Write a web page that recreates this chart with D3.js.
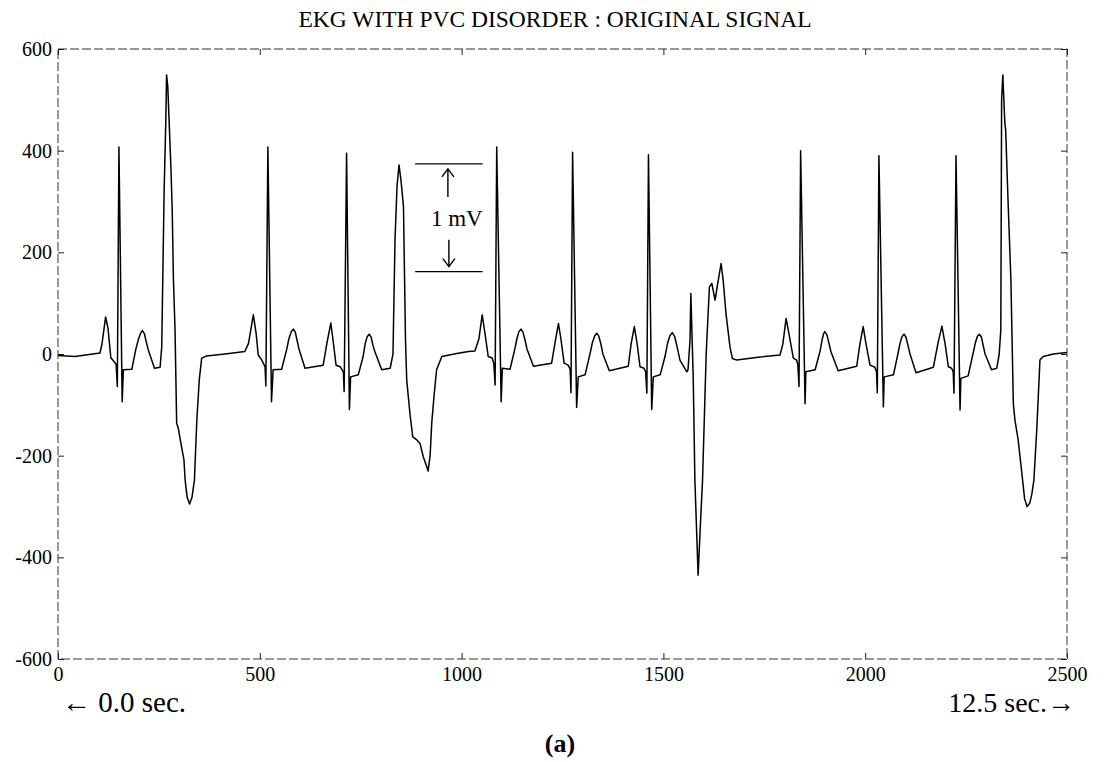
<!DOCTYPE html>
<html>
<head>
<meta charset="utf-8">
<script src="https://cdn.jsdelivr.net/npm/d3@7"></script>
<style>
  body { margin: 0; background: #fff; }
  text { font-family: "Liberation Serif", "Times New Roman", serif; fill: #000; }
</style>
</head>
<body>
<script>
// EKG trace: [sample number, amplitude]
const ekgTrace = [
  [0,-3],[42,-5],[104,2],[109,20],[118,73],[124,50],[131,-8],[136,-12],[144,-20],[147,-64],[151,407],[159,-94],[162,-31],
  [183,-30],[193,10],[199,28],[204,40],[209,46],[214,40],[218,26],[223,10],[239,-28],[253,-26],[257,14],[263,322],
  [267,454],[269,549],[272,526],[280,362],
  [283,283],[286,146],[290,47],[294,-136],[298,-146],[306,-182],[312,-208],[315,-248],[320,-282],[326,-295],[332,-282],
  [338,-248],[344,-130],[350,-51],[356,-8],[368,-4],[414,0],[463,5],[472,21],[484,77],[491,40],[496,-2],[505,-12],
  [513,-25],[515,-63],[520,407],[529,-94],[533,-31],[554,-30],[567,10],[572,30],[578,44],[583,49],[588,43],[592,28],
  [597,10],[612,-28],[657,-22],[666,20],
  [676,61],[681,30],[689,-22],[699,-25],[707,-35],[709,-74],[715,395],[722,-109],[725,-45],[744,-41],[756,-5],[761,20],
  [766,34],[771,39],[776,33],[780,18],
  [785,5],[802,-31],[823,-28],[830,0],[835,224],[840,330],[845,372],[850,340],[856,290],[859,132],[861,28],[864,-51],
  [872,-117],[879,-163],[889,-169],[897,-176],[905,-202],[912,-218],[917,-230],[922,-200],[926,-136],[932,-80],[938,-31],
  [951,-5],[988,1],[1017,5],[1033,6],[1043,30],[1051,77],[1058,40],[1066,-5],[1076,-8],[1080,-20],[1083,-61],[1087,407],
  [1098,-94],[1101,-28],[1120,-30],[1132,10],[1137,30],[1142,44],[1147,49],[1152,43],[1157,28],[1162,10],[1178,-24],
  [1223,-18],[1231,20],[1240,60],[1246,30],
  [1254,-18],[1264,-22],[1269,-30],[1271,-76],[1275,397],[1285,-105],[1289,-45],[1306,-41],[1318,0],[1324,22],[1330,36],
  [1335,41],[1340,35],[1345,20],[1350,0],
  [1366,-33],[1413,-24],[1420,20],[1428,54],[1435,20],[1442,-25],[1452,-28],[1456,-35],[1459,-77],[1463,392],[1471,-109],
  [1475,-45],[1492,-41],[1504,-5],[1510,20],[1516,36],[1522,42],[1528,34],[1534,14],[1541,-12],[1558,-35],[1561,-31],
  [1566,28],[1568,119],[1574,-51],[1578,-248],
  [1586,-435],[1592,-330],[1597,-248],[1606,0],[1614,132],[1620,139],[1628,106],[1634,136],[1643,178],[1648,146],
  [1655,80],[1665,14],[1671,-9],[1682,-12],[1739,-6],[1789,-2],[1796,20],[1804,70],[1811,40],[1822,-8],[1830,-12],
  [1833,-20],[1836,-64],[1840,400],[1851,-98],[1853,-35],[1876,-31],[1888,5],[1893,27],[1897,40],[1900,44],[1905,38],
  [1910,22],[1915,5],[1933,-33],[1979,-24],
  [1987,20],[1995,54],[2002,20],[2012,-22],[2024,-26],[2028,-35],[2030,-76],[2034,390],[2045,-104],[2047,-45],[2070,-41],
  [2081,0],[2086,20],[2091,34],[2096,39],[2101,33],[2106,17],[2111,0],[2126,-37],[2169,-26],[2180,20],[2190,55],
  [2198,20],[2206,-25],[2214,-28],[2218,-35],
  [2220,-77],[2225,390],[2235,-110],[2237,-48],[2255,-43],[2267,0],[2273,22],[2278,35],[2283,39],[2288,33],[2292,18],
  [2297,0],[2313,-31],[2326,-28],[2332,0],
  [2336,47],[2338,500],[2341,549],[2346,454],[2348,441],[2354,300],[2361,146],[2367,-97],[2371,-130],[2379,-169],
  [2390,-248],[2395,-285],[2401,-300],[2408,-293],[2413,-275],[2418,-248],[2425,-150],[2433,-12],[2441,-5],[2466,0],[2500,3]
];

const xTicks = [0, 500, 1000, 1500, 2000, 2500];
const yTicks = [-600, -400, -200, 0, 200, 400, 600];

// 1 mV calibration bar: sample range and the two levels
const barSamples = [885, 1052];
const barLevels = [374, 162];

let w = 1108;
let h = 762;

let svg = d3.select('body').append('svg')
    .attr('width', w)
    .attr('height', h);

let x = d3.scaleLinear().domain([0, 2500]).range([58, 1067]);
let y = d3.scaleLinear().domain([-600, 600]).range([659, 49]);

// frame (scanned look: dashed thin line)
svg.append('rect')
    .attr('x', x(0))
    .attr('y', y(600))
    .attr('width', x(2500) - x(0))
    .attr('height', y(-600) - y(600))
    .attr('fill', 'none')
    .attr('stroke', '#333')
    .attr('stroke-width', 1)
    .attr('stroke-dasharray', '9,3');

function styleAxis(g) {
    g.select('.domain').remove();
    g.selectAll('line').attr('stroke', '#222');
    g.selectAll('text')
        .style('font-family', '"Liberation Serif", "Times New Roman", serif')
        .style('font-size', '20px');
}

let plain = d => String(d);

svg.append('g')
    .attr('transform', `translate(0,${y(-600)})`)
    .call(d3.axisBottom(x).tickValues(xTicks).tickFormat(plain).tickSize(-6).tickSizeOuter(0).tickPadding(8))
    .call(styleAxis);

svg.append('g')
    .attr('transform', `translate(${x(0)},0)`)
    .call(d3.axisLeft(y).tickValues(yTicks).tickFormat(plain).tickSize(-6).tickSizeOuter(0).tickPadding(6))
    .call(styleAxis);

svg.append('g')
    .attr('transform', `translate(0,${y(600)})`)
    .call(d3.axisTop(x).tickValues(xTicks).tickSize(-6).tickSizeOuter(0).tickFormat(''))
    .call(styleAxis);

svg.append('g')
    .attr('transform', `translate(${x(2500)},0)`)
    .call(d3.axisRight(y).tickValues(yTicks).tickSize(-6).tickSizeOuter(0).tickFormat(''))
    .call(styleAxis);

// signal
let line = d3.line()
    .x(d => x(d[0]))
    .y(d => y(d[1]))
    .curve(d3.curveLinear);

svg.append('path')
    .datum(ekgTrace)
    .attr('d', line)
    .attr('fill', 'none')
    .attr('stroke', '#000')
    .attr('stroke-width', 1.5)
    .attr('stroke-linejoin', 'round');

// 1 mV bar
barLevels.forEach(v => {
    svg.append('line')
        .attr('x1', x(barSamples[0]))
        .attr('x2', x(barSamples[1]))
        .attr('y1', y(v))
        .attr('y2', y(v))
        .attr('stroke', '#000')
        .attr('stroke-width', 1.4);
});

let ax = x((barSamples[0] + barSamples[1]) / 2) - 1;
let topY = y(barLevels[0]);
let botY = y(barLevels[1]);
svg.append('path')
    .attr('d', `M${ax},${topY + 33}V${topY + 5}M${ax - 6},${topY + 13}L${ax},${topY + 5}L${ax + 6},${topY + 13}`)
    .attr('fill', 'none').attr('stroke', '#000').attr('stroke-width', 1.4);
svg.append('path')
    .attr('d', `M${ax + 1},${botY - 32}V${botY - 5}M${ax - 5},${botY - 13}L${ax + 1},${botY - 5}L${ax + 7},${botY - 13}`)
    .attr('fill', 'none').attr('stroke', '#000').attr('stroke-width', 1.4);

svg.append('text')
    .attr('x', ax - 17)
    .attr('y', (topY + botY) / 2 + 8)
    .style('font-size', '23px')
    .text('1 mV');

// title and captions
svg.append('text')
    .attr('x', 555)
    .attr('y', 27)
    .attr('text-anchor', 'middle')
    .style('font-size', '23.5px')
    .text('EKG WITH PVC DISORDER : ORIGINAL SIGNAL');

svg.append('text')
    .attr('x', 62)
    .attr('y', 712)
    .style('font-size', '29px')
    .text('\u2190 0.0 sec.');

svg.append('text')
    .attr('x', 1075)
    .attr('y', 712)
    .attr('text-anchor', 'end')
    .style('font-size', '28px')
    .text('12.5 sec.\u2192');

svg.append('text')
    .attr('x', 560)
    .attr('y', 752)
    .attr('text-anchor', 'middle')
    .style('font-size', '26px')
    .style('font-weight', 'bold')
    .text('(a)');
</script>
</body>
</html>
